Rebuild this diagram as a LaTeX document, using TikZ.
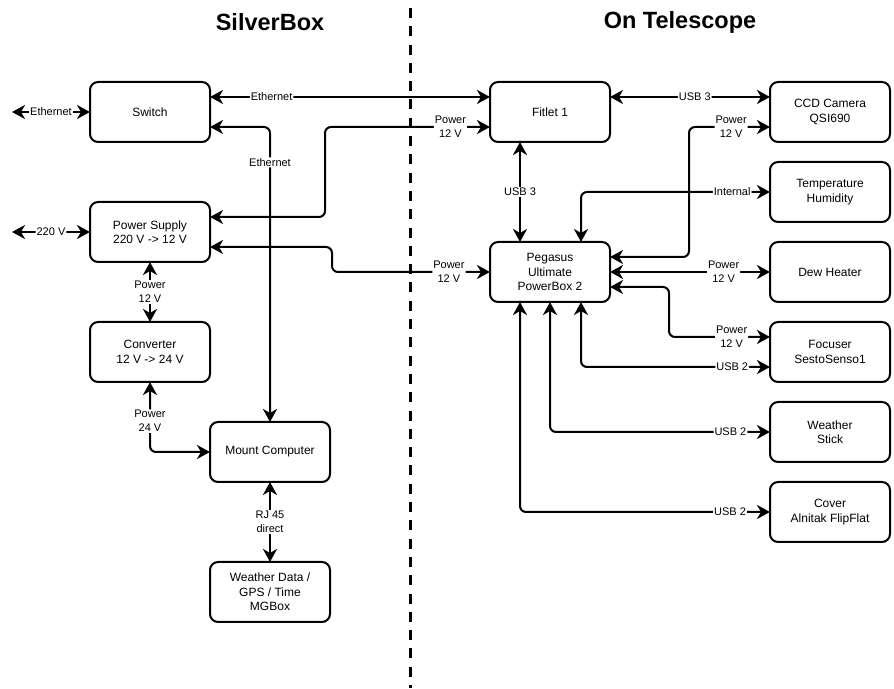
\documentclass[tikz,border=0pt]{standalone}
\usepackage{fontspec}
\setmainfont{Liberation Sans}
\usetikzlibrary{arrows.meta, positioning}

\begin{document}
\begin{tikzpicture}[
    x=1pt, y=1pt,
    node distance=20pt,
    block/.style={
        draw,
        line width=2pt,
        outer sep=0pt,
        rectangle,
        rounded corners=8pt,
        align=center,
        minimum width=120pt,
        minimum height=60pt,
        font=\fontsize{12}{14.5}\selectfont
    },
    arrow/.style={{Stealth[length=13pt,width=14pt,inset=4pt]}-{Stealth[length=13pt,width=14pt,inset=4pt]}, line width=2pt, rounded corners=6pt},
    lbl/.style={fill=white, inner sep=1pt, align=center, font=\fontsize{11}{14}\selectfont},
    title/.style={font=\fontsize{23.5}{28}\selectfont\bfseries}
]
\useasboundingbox (0,0) rectangle (894,688);

% ===== Titles and divider =====
\node[title] (silver) at (270,666) {SilverBox};
\node[title] (tele) at (680,666) {On Telescope};
\draw[line width=3pt, dash pattern=on 10pt off 8.3pt] (410,680) -- (410,0);

% ===== SilverBox =====
\node[block] (switch) at (150,576) {Switch};
\node[block, below=60pt of switch] (power) {Power Supply\\220 V -> 12 V};
\node[block, below=60pt of power] (conv) {Converter\\12 V -> 24 V};
\node[block] (mount) at (270,236) {Mount Computer};
\node[block, below=80pt of mount] (mgbox) {Weather Data /\\GPS / Time\\MGBox};

\coordinate (ethout) at (12,576);
\coordinate (acin) at (12,456);

% ===== On Telescope =====
\node[block] (fitlet) at (550,576) {Fitlet 1};
\node[block, below=100pt of fitlet] (pegasus) {Pegasus\\Ultimate\\PowerBox 2};
\node[block] (ccd) at (830,576) {CCD Camera\\QSI690};
\node[block, below=of ccd] (temp) {Temperature\\Humidity};
\node[block, below=of temp] (dew) {Dew Heater};
\node[block, below=of dew] (focuser) {Focuser\\SestoSenso1};
\node[block, below=of focuser] (stick) {Weather\\Stick};
\node[block, below=of stick] (cover) {Cover\\Alnitak FlipFlat};

% ===== Arrows =====
\draw[arrow] (ethout) -- node[lbl] {Ethernet} (switch.west);
\draw[arrow] (acin) -- node[lbl] {220 V} (power.west);
\draw[arrow] ([yshift=15pt]switch.east) -- node[lbl, pos=0.22] {Ethernet} ([yshift=15pt]fitlet.west);
\draw[arrow] ([yshift=-15pt]switch.east) -| node[lbl, pos=0.56] {Ethernet} (mount.north);
\draw[arrow] ([yshift=15pt]power.east) -- ++(115,0) |- node[lbl, pos=0.88] {Power\\12 V} ([yshift=-15pt]fitlet.west);
\draw[arrow] ([yshift=-15pt]power.east) -- ++(122,0) |- node[lbl, pos=0.87] {Power\\12 V} (pegasus.west);
\draw[arrow] (power) -- node[lbl] {Power\\12 V} (conv);
\draw[arrow] (conv.south) |- node[lbl, pos=0.28] {Power\\24 V} (mount.west);
\draw[arrow] (mount) -- node[lbl] {RJ 45\\direct} (mgbox);

\draw[arrow] ([xshift=-30pt]fitlet.south) -- node[lbl] {USB 3} ([xshift=-30pt]pegasus.north);
\draw[arrow] ([yshift=15pt]fitlet.east) -- node[lbl, pos=0.53] {USB 3} ([yshift=15pt]ccd.west);
\draw[arrow] ([yshift=15pt]pegasus.east) -- ++(79,0) |- node[lbl, pos=0.76] {Power\\12 V} ([yshift=-15pt]ccd.west);
\draw[arrow] (temp.west) -| node[lbl, pos=0.1] {Internal} ([xshift=31pt]pegasus.north);
\draw[arrow] (pegasus) -- node[lbl, pos=0.71] {Power\\12 V} (dew);
\draw[arrow] ([yshift=-15pt]pegasus.east) -- ++(59,0) |- node[lbl, pos=0.81] {Power\\12 V} ([yshift=15pt]focuser.west);
\draw[arrow] ([xshift=31pt]pegasus.south) |- node[lbl, pos=0.9] {USB 2} ([yshift=-15pt]focuser.west);
\draw[arrow] (pegasus.south) |- node[lbl, pos=0.91] {USB 2} (stick.west);
\draw[arrow] ([xshift=-30pt]pegasus.south) |- node[lbl, pos=0.92] {USB 2} (cover.west);

\end{tikzpicture}
\end{document}
